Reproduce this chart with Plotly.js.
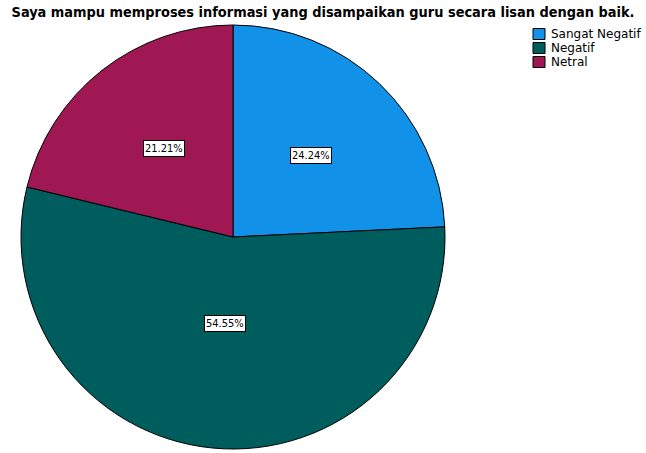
<!DOCTYPE html>
<html><head><meta charset="utf-8">
<script src="https://cdn.plot.ly/plotly-3.0.1.min.js"></script>
<style>html,body{margin:0;padding:0;background:#fff;}#chart{width:646px;height:453px;}</style>
</head><body><div id="chart"></div>
<script>
const categories = ["Sangat Negatif", "Negatif", "Netral"];
const percents = [24.24, 54.55, 21.21];
const colors = ["#1192e8", "#005d5d", "#9f1853"];
const titleText = "Saya mampu memproses informasi yang disampaikan guru secara lisan dengan baik.";

const W = 646, H = 453;
const cx = 233, cy = 237, R = 212;
const dom = {x: [(cx - R) / W, (cx + R) / W], y: [(H - cy - R) / H, (H - cy + R) / H]};

const total = percents.reduce((a, b) => a + b, 0);
let cum = 0;
const annotations = percents.map((v, i) => {
  const share = v / total;
  const mid = (cum + v / 2) / total * 2 * Math.PI;
  cum += v;
  const d = (share > 0.5 ? 0.41 : 0.53) * R;
  const px = cx + Math.sin(mid) * d;
  const py = cy - Math.cos(mid) * d;
  return {
    x: px / W, y: 1 - py / H, xref: "paper", yref: "paper",
    xanchor: "center", yanchor: "middle",
    text: v.toFixed(2) + "%", showarrow: false,
    bgcolor: "#ffffff", bordercolor: "#000000", borderwidth: 1, borderpad: 1,
    font: {family: "DejaVu Sans Condensed, DejaVu Sans", size: 11, color: "#000"}
  };
});

// manual legend (keeps the plot area from being pushed by the legend)
const shapes = [];
const legX = 533, legY0 = 34, legStep = 14, sw = 12, sh = 11;
categories.forEach((c, i) => {
  const yc = legY0 + i * legStep;
  shapes.push({
    type: "rect", xref: "paper", yref: "paper",
    x0: legX / W, x1: (legX + sw) / W,
    y0: 1 - (yc + sh / 2) / H, y1: 1 - (yc - sh / 2) / H,
    fillcolor: colors[i], line: {color: "#000000", width: 1}
  });
  annotations.push({
    x: (legX + sw + 4) / W, y: 1 - yc / H, xref: "paper", yref: "paper",
    xanchor: "left", yanchor: "middle", showarrow: false, text: c,
    font: {family: "DejaVu Sans", size: 12, color: "#000"}
  });
});

const trace = {
  type: "pie", labels: categories, values: percents,
  marker: {colors: colors, line: {color: "#000000", width: 1}},
  sort: false, direction: "clockwise", rotation: 0,
  textinfo: "none", hoverinfo: "label+percent",
  domain: dom
};

const layout = {
  width: W, height: H,
  margin: {l: 0, r: 0, t: 0, b: 0},
  paper_bgcolor: "#ffffff",
  title: {text: "<b>" + titleText + "</b>", x: 0.5, xanchor: "center", y: 1 - 12 / H, yanchor: "middle",
          font: {family: "DejaVu Sans Condensed, DejaVu Sans", size: 14.4, color: "#000"}},
  showlegend: false,
  annotations: annotations,
  shapes: shapes
};

Plotly.newPlot("chart", [trace], layout, {displayModeBar: false, staticPlot: true});
</script></body></html>
